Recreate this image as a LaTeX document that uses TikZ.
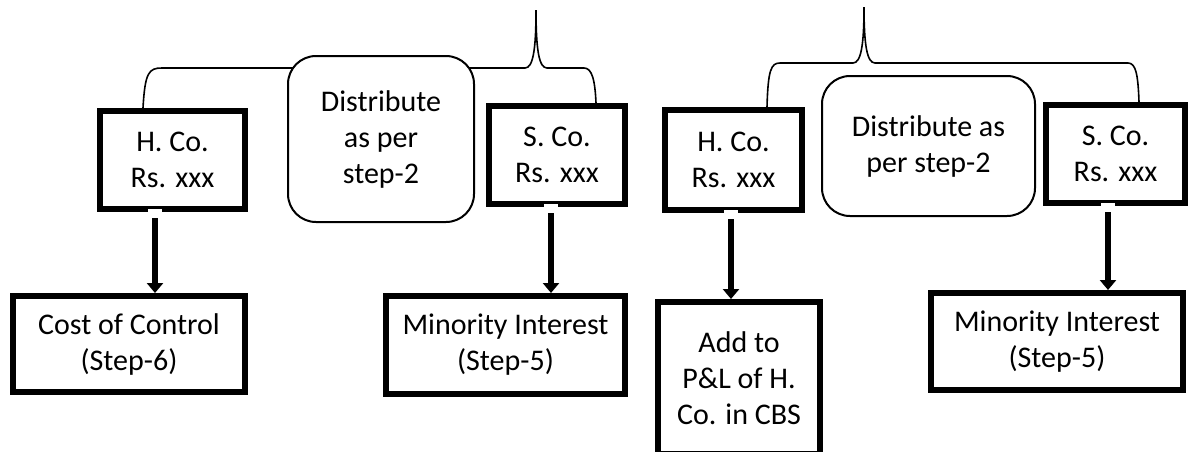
\documentclass[tikz,border=0pt]{standalone}
\usepackage{fontspec}
\setmainfont{Carlito}
\usetikzlibrary{arrows.meta, positioning}
\tikzset{>=stealth}
\pgfdeclarelayer{bg}
\pgfsetlayers{bg,main}

\begin{document}
\begin{tikzpicture}[x=0.5pt, y=-0.5pt,
	every node/.style={font=\fontsize{15}{18}\selectfont, align=center, inner sep=0pt},
	cobox/.style={draw, line width=3pt, fill=white},
	distbox/.style={draw, line width=1pt, rounded corners=14pt, fill=white},
	flow/.style={line width=3pt, shorten <=4.5pt, -{Triangle[length=5pt,width=8pt]}, preaction={draw=white, line width=7pt, shorten <=0pt}},
	brace/.style={line width=0.8pt}]
	\useasboundingbox (0,0) rectangle (1192,451);
	\clip (0,0) rectangle (1192,451);
	% left group
	\node [cobox, minimum width=72.5pt, minimum height=49pt] (hcoA) at (172.5,160) {H. Co.\\Rs. xxx};
	\node [distbox, minimum width=93pt, minimum height=83pt] (distA) at (381,139) {Distribute\\as per\\step-2};
	\node [cobox, minimum width=68pt, minimum height=49pt] (sA) at (557,155) {S. Co.\\Rs. xxx};
	\node [cobox, minimum width=116pt, minimum height=48pt] (costA) at (129,344) {Cost of Control\\(Step-6)};
	\node [cobox, minimum width=119.5pt, minimum height=49pt] (minA) at (505.5,345) {Minority Interest\\(Step-5)};
	% right group
	\node [cobox, minimum width=68.5pt, minimum height=50pt] (hcoB) at (733.5,160) {H. Co.\\Rs. xxx};
	\node [distbox, minimum width=106.5pt, minimum height=70pt] (distB) at (928.5,146) {Distribute as\\per step-2};
	\node [cobox, minimum width=69.5pt, minimum height=49pt] (sB) at (1115.5,154) {S. Co.\\Rs. xxx};
	\node [cobox, minimum width=81pt, minimum height=76pt] (addB) at (739,378) {Add to\\P\&L of H.\\Co. in CBS};
	\node [cobox, minimum width=126pt, minimum height=48.5pt] (minB) at (1057,341.5) {Minority Interest\\(Step-5)};
	% braces
	\coordinate (tipA) at (536,10);
	\coordinate (tipB) at (864,7);
	\begin{pgfonlayer}{bg}
		\draw [brace] ([xshift=-14.75pt]hcoA.north) .. controls (145,72) and (149,68) .. (162,68) -- (525,68) .. controls (533,68) and (536,50) .. (tipA) .. controls (536,50) and (539,68) .. (547,68) -- (584,68) .. controls (592,68) and (595,80) .. ([xshift=19.5pt]sA.north);
		\draw [brace] ([xshift=16.75pt]hcoB.north) .. controls (768,70) and (771,63) .. (780,63) -- (853,63) .. controls (861,63) and (864,45) .. (tipB) .. controls (864,45) and (867,63) .. (875,63) -- (1128,63) .. controls (1136,63) and (1138,75) .. ([xshift=11.75pt]sB.north);
	\end{pgfonlayer}
	% arrows
	\draw [flow] ([xshift=-8.75pt, yshift=1.5pt]hcoA.south) -- ([xshift=13pt]costA.north);
	\draw [flow] ([xshift=-3pt, yshift=1.5pt]sA.south) -- ([xshift=22.75pt]minA.north);
	\draw [flow] ([xshift=-1.25pt, yshift=1.5pt]hcoB.south) -- ([xshift=-4pt]addB.north);
	\draw [flow] ([xshift=-3.75pt, yshift=1.5pt]sB.south) -- ([xshift=25.5pt]minB.north);
\end{tikzpicture}
\end{document}
